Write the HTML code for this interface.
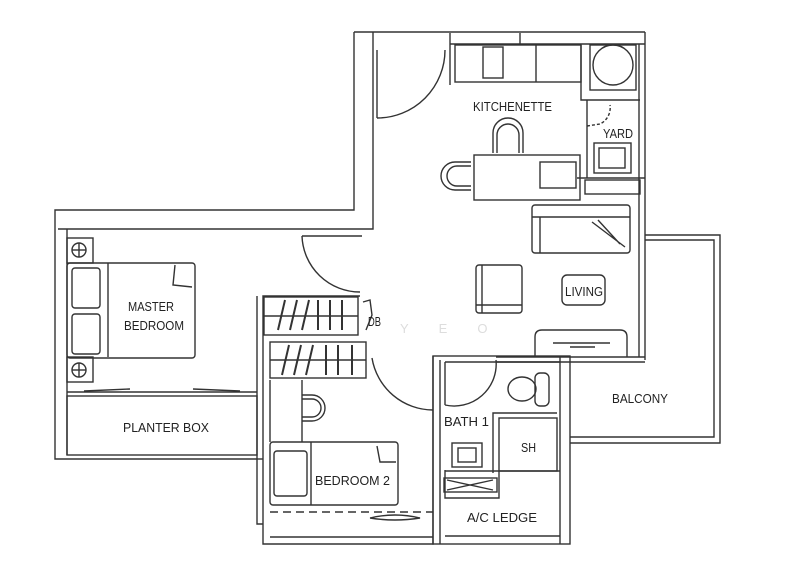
<!DOCTYPE html>
<html><head><meta charset="utf-8"><style>
html,body{margin:0;padding:0;background:#fff;width:800px;height:577px;overflow:hidden}
svg{display:block}
text{font-family:"Liberation Sans Narrow","Liberation Sans",sans-serif;font-size:13px;fill:#222}
</style></head><body>
<svg width="800" height="577" viewBox="0 0 800 577" xmlns="http://www.w3.org/2000/svg">
<g fill="none" stroke="#333" stroke-width="1.4">
<polyline points="354,32 354,210 55,210 55,459 257,459"/>
<polyline points="373,32 373,229 58,229"/>
<line x1="67" y1="229" x2="67" y2="455"/>
<line x1="377" y1="50" x2="377" y2="118"/>
<line x1="302" y1="236" x2="362" y2="236"/>
<path d="M302,236 A58,58 0 0 0 360,292"/>
<line x1="354" y1="32" x2="645" y2="32"/>
<line x1="450" y1="33" x2="450" y2="85"/>
<line x1="520" y1="33" x2="520" y2="44"/>
<line x1="450" y1="44" x2="645" y2="44"/>
<line x1="645" y1="32" x2="645" y2="360"/>
<line x1="639" y1="44" x2="639" y2="357"/>
<path d="M445,50 A68,68 0 0 1 377,118"/>
<rect x="455" y="45" width="126" height="37"/>
<rect x="483" y="47" width="20" height="31"/>
<line x1="536" y1="45" x2="536" y2="82"/>
<rect x="590" y="45" width="46" height="45"/>
<circle cx="613" cy="65" r="20"/>
<polyline points="581,45 581,100 640,100"/>
<line x1="587" y1="100" x2="587" y2="178"/>
<rect x="594" y="143" width="37" height="30"/>
<rect x="599" y="148" width="26" height="20"/>
<rect x="585" y="180" width="55" height="14"/>
<line x1="577" y1="178" x2="645" y2="178"/>
<path d="M587,126 L600,124 A18,18 0 0 0 610,105" stroke-dasharray="3,2"/>
<rect x="474" y="155" width="106" height="45"/>
<rect x="540" y="162" width="36" height="26"/>
<path d="M493,153 L493,133 A15,15 0 0 1 523,133 L523,153"/>
<path d="M497,153 L497,135 A11,11 0 0 1 519,135 L519,153"/>
<path d="M471,162 L455,162 A14,14 0 0 0 455,190 L471,190"/>
<path d="M471,166 L457,166 A10,10 0 0 0 457,186 L471,186"/>
<rect x="532" y="205" width="98" height="48" rx="3"/>
<line x1="532" y1="217" x2="630" y2="217"/>
<line x1="540" y1="217" x2="540" y2="253"/>
<path d="M592,222 L625,247 M598,220 L620,244"/>
<rect x="476" y="265" width="46" height="48" rx="3"/>
<line x1="482" y1="265" x2="482" y2="313"/>
<line x1="476" y1="305" x2="522" y2="305"/>
<rect x="562" y="275" width="43" height="30" rx="5"/>
<path d="M535,357 L535,337 Q535,330 542,330 L620,330 Q627,330 627,337 L627,357"/>
<line x1="553" y1="343" x2="610" y2="343"/>
<line x1="570" y1="347" x2="595" y2="347"/>
<line x1="496" y1="357" x2="645" y2="357"/>
<line x1="496" y1="362" x2="645" y2="362"/>
<polyline points="645,235 720,235 720,443 570,443"/>
<polyline points="645,240 714,240 714,437 570,437"/>
<rect x="433" y="356" width="137" height="188"/>
<line x1="440" y1="360" x2="440" y2="544"/>
<line x1="560" y1="356" x2="560" y2="544"/>
<line x1="445" y1="362" x2="560" y2="362"/>
<line x1="445" y1="362" x2="445" y2="405"/>
<path d="M445,405 A42,42 0 0 0 496,360"/>
<ellipse cx="522" cy="389" rx="14" ry="12"/>
<rect x="535" y="373" width="14" height="33" rx="5"/>
<polyline points="493,473 493,413 557,413"/>
<rect x="499" y="418" width="58" height="53"/>
<line x1="445" y1="471" x2="560" y2="471"/>
<rect x="452" y="443" width="30" height="24"/>
<rect x="458" y="448" width="18" height="14"/>
<rect x="444" y="478" width="53" height="14"/>
<path d="M447,480 L470,485 L493,480 M447,490 L470,485 L493,490"/>
<polyline points="445,470 445,498 499,498 499,471"/>
<line x1="445" y1="536" x2="560" y2="536"/>
<polyline points="433,356 433,544 263,544 263,296 360,296"/>
<polyline points="257,296 257,524 263,524"/>
<line x1="257" y1="459" x2="263" y2="459"/>
<rect x="264" y="297" width="94" height="38"/>
<line x1="264" y1="316" x2="358" y2="316"/>
<rect x="270" y="342" width="96" height="36"/>
<line x1="270" y1="360" x2="366" y2="360"/>
<g stroke-width="2">
<line x1="278" y1="330" x2="285" y2="300"/><line x1="290" y1="330" x2="297" y2="300"/><line x1="302" y1="330" x2="309" y2="300"/>
<line x1="318" y1="330" x2="318" y2="300"/><line x1="330" y1="330" x2="330" y2="300"/><line x1="342" y1="330" x2="342" y2="300"/>
<line x1="282" y1="375" x2="289" y2="345"/><line x1="294" y1="375" x2="301" y2="345"/><line x1="306" y1="375" x2="313" y2="345"/>
<line x1="326" y1="375" x2="326" y2="345"/><line x1="338" y1="375" x2="338" y2="345"/><line x1="352" y1="375" x2="352" y2="345"/>
</g>
<path d="M363,302 L370,300 L372,315 L366,330" />
<path d="M372,358 A62,62 0 0 0 433,410"/>
<line x1="270" y1="380" x2="270" y2="442"/>
<line x1="302" y1="380" x2="302" y2="442"/>
<path d="M302,395 L312,395 A13,13 0 0 1 312,421 L302,421"/>
<path d="M302,399 L312,399 A9,9 0 0 1 312,417 L302,417"/>
<rect x="270" y="442" width="128" height="63" rx="3"/>
<line x1="311" y1="442" x2="311" y2="505"/>
<rect x="274" y="451" width="33" height="45" rx="3"/>
<path d="M377,446 L380,462 L396,462"/>
<line x1="270" y1="512" x2="433" y2="512" stroke-dasharray="8,5"/>
<line x1="270" y1="537" x2="433" y2="537"/>
<path d="M370,518 Q395,512 420,518 Q395,522 370,518"/>
<rect x="67" y="238" width="26" height="25"/>
<circle cx="79" cy="250" r="7"/>
<line x1="72" y1="250" x2="86" y2="250"/><line x1="79" y1="243" x2="79" y2="257"/>
<rect x="67" y="357" width="26" height="25"/>
<circle cx="79" cy="370" r="7"/>
<line x1="72" y1="370" x2="86" y2="370"/><line x1="79" y1="363" x2="79" y2="377"/>
<rect x="67" y="263" width="128" height="95" rx="3"/>
<line x1="108" y1="263" x2="108" y2="357"/>
<rect x="72" y="268" width="28" height="40" rx="3"/>
<rect x="72" y="314" width="28" height="40" rx="3"/>
<path d="M175,265 L173,285 L192,287"/>
<line x1="67" y1="392" x2="257" y2="392"/>
<rect x="67" y="396" width="190" height="59"/>
<line x1="84" y1="391" x2="130" y2="389"/><line x1="193" y1="389" x2="240" y2="391"/>
</g>
<g>
<text x="473" y="111" textLength="79" lengthAdjust="spacingAndGlyphs">KITCHENETTE</text>
<text x="603" y="138" textLength="30" lengthAdjust="spacingAndGlyphs">YARD</text>
<text x="565" y="296" textLength="38" lengthAdjust="spacingAndGlyphs">LIVING</text>
<text x="128" y="311" textLength="46" lengthAdjust="spacingAndGlyphs">MASTER</text>
<text x="124" y="330" textLength="60" lengthAdjust="spacingAndGlyphs">BEDROOM</text>
<text x="368" y="326" textLength="13" lengthAdjust="spacingAndGlyphs">DB</text>
<text x="123" y="432" textLength="86" lengthAdjust="spacingAndGlyphs">PLANTER BOX</text>
<text x="315" y="485" textLength="75" lengthAdjust="spacingAndGlyphs">BEDROOM 2</text>
<text x="444" y="426" textLength="45" lengthAdjust="spacingAndGlyphs">BATH 1</text>
<text x="521" y="452" textLength="15" lengthAdjust="spacingAndGlyphs">SH</text>
<text x="467" y="522" textLength="70" lengthAdjust="spacingAndGlyphs">A/C LEDGE</text>
<text x="612" y="403" textLength="56" lengthAdjust="spacingAndGlyphs">BALCONY</text>
<text x="400" y="333" font-size="16" style="fill:#ddd;letter-spacing:30px">YEO</text>
</g>
</svg>
</body></html>
